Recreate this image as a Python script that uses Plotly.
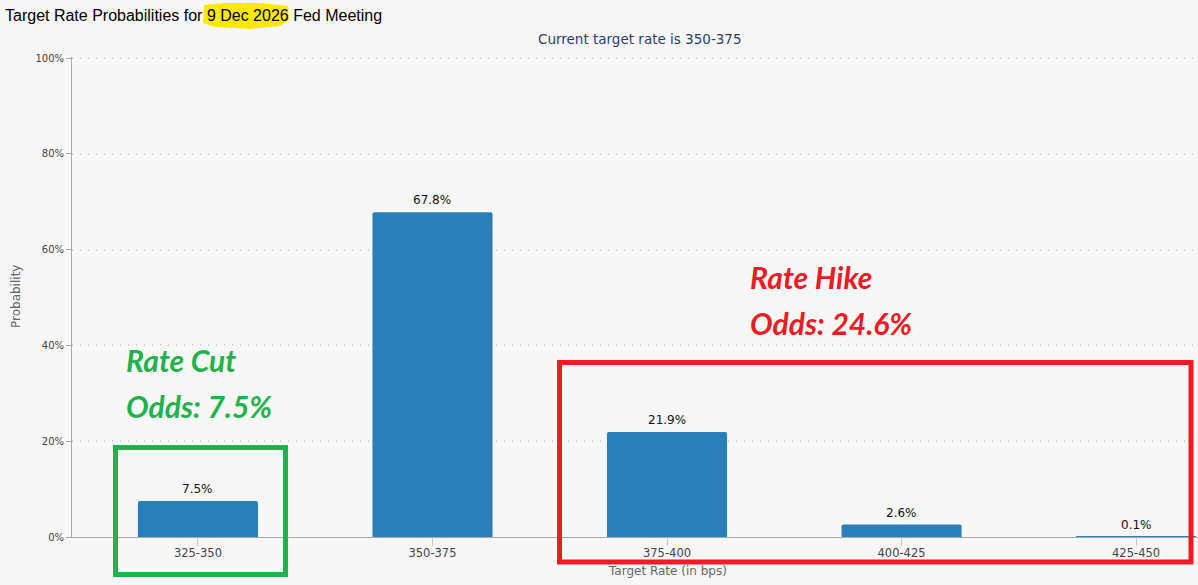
import plotly.graph_objects as go

categories = ["325-350", "350-375", "375-400", "400-425", "425-450"]
probabilities = [7.5, 67.8, 21.9, 2.6, 0.1]
value_labels = ["7.5%", "67.8%", "21.9%", "2.6%", "0.1%"]
y_ticks = [0, 20, 40, 60, 80, 100]
y_tick_labels = ["0%", "20%", "40%", "60%", "80%", "100%"]

W, H = 1198, 585
L, R, T, B = 72, 0, 57, 48
AXIS = "DejaVu Sans, Verdana, sans-serif"
HAND = "Lato, Open Sans, sans-serif"
GREEN = "#22b14c"
RED = "#ed1c24"

px = lambda x: (x - L) / (W - L - R)
py = lambda y: 1 - (y - T) / (H - T - B)

fig = go.Figure(go.Bar(
    x=categories, y=probabilities, width=0.512,
    marker=dict(color="#2a7fb8", cornerradius=2, line=dict(width=0)),
    cliponaxis=False, hoverinfo="x+y",
))

for cat, val, lab in zip(categories, probabilities, value_labels):
    fig.add_annotation(x=cat, y=val, text=lab, showarrow=False, yanchor="bottom", yshift=3,
                       font=dict(family=AXIS, size=12, color="#111111"))

def note(x, y, text, size, color, family=AXIS, anchor="left", angle=0, **font):
    fig.add_annotation(xref="paper", yref="paper", x=px(x), y=py(y), text=text,
                       showarrow=False, xanchor=anchor, yanchor="middle", textangle=angle,
                       font=dict(family=family, size=size, color=color, **font))

note(3, 16, "Target Rate Probabilities for 9 Dec 2026 Fed Meeting", 16, "#000000",
     family="Liberation Sans, Arial, sans-serif")
note(640, 39, "Current target rate is 350-375", 13.5, "#2f3e6b", anchor="center")
note(667, 571, "Target Rate (in bps)", 12, "#666666", anchor="center")
note(16, 297, "Probability", 12, "#666666", anchor="center", angle=-90)
note(124, 360, "Rate Cut", 30, GREEN, family=HAND, weight="bold", style="italic")
note(124, 406, "Odds: 7.5%", 30, GREEN, family=HAND, weight="bold", style="italic")
note(748, 277, "Rate Hike", 30, RED, family=HAND, weight="bold", style="italic")
note(748, 323, "Odds: 24.6%", 30, RED, family=HAND, weight="bold", style="italic")

# Hand-drawn annotations on top of the chart
fig.add_shape(type="rect", xref="paper", yref="paper", x0=px(115.5), x1=px(285.5), y0=py(574.5), y1=py(447.5),
              line=dict(color=GREEN, width=5), layer="above")
fig.add_shape(type="rect", xref="paper", yref="paper", x0=px(559.5), x1=px(1191), y0=py(562), y1=py(362.5),
              line=dict(color=RED, width=5), layer="above")
pts = [(204, 5), (225, 3), (260, 3), (288, 6), (289, 20), (280, 26), (250, 29), (215, 27), (203, 23)]
path = "M " + " L ".join(f"{px(a):.5f},{py(b):.5f}" for a, b in pts) + " Z"
fig.add_shape(type="path", xref="paper", yref="paper", path=path,
              fillcolor="#fbe90a", line=dict(width=0), layer="below")

fig.update_layout(
    width=W, height=H, margin=dict(l=L, r=R, t=T, b=B),
    paper_bgcolor="#f7f7f7", plot_bgcolor="#f7f7f7",
    showlegend=False,
    xaxis=dict(type="category", range=[-0.537, 4.264], showgrid=False,
               ticks="outside", ticklen=8, tickcolor="#cccccc", tickwidth=1,
               ticklabelstandoff=-3,
               showline=True, linecolor="#aaaaaa", linewidth=1, zeroline=False,
               tickfont=dict(family=AXIS, size=11.5, color="#444444")),
    yaxis=dict(range=[0, 100.21], tickvals=y_ticks, ticktext=y_tick_labels,
               showgrid=True, gridcolor="#cfcfcf", griddash="1px,7px", gridwidth=1.5,
               ticks="outside", ticklen=5, tickcolor="#aaaaaa", tickwidth=1,
               showline=True, linecolor="#aaaaaa", linewidth=1, zeroline=False,
               tickfont=dict(family=AXIS, size=10, color="#444444")),
)

fig.write_html("out.html", config={"displayModeBar": False},
               post_script="document.body.style.margin='0';")
